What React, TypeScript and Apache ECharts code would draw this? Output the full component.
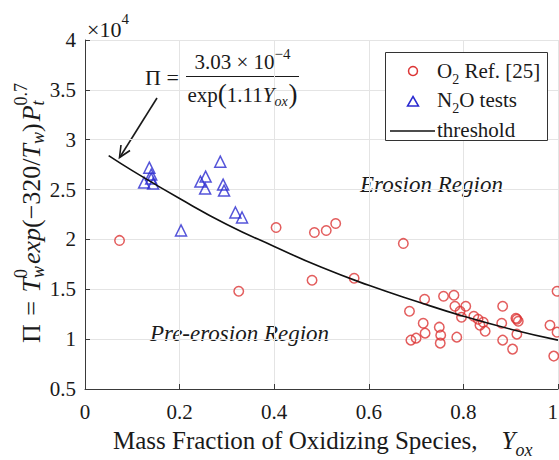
import React, { useEffect, useRef } from "react";
import * as echarts from "echarts";

// ---- data (Pi values in units of 1e4) ----
const o2X = [0.073, 0.325, 0.404, 0.48, 0.485, 0.51, 0.53, 0.569, 0.673, 0.686, 0.689, 0.7, 0.715, 0.718, 0.719, 0.749, 0.751, 0.752, 0.758, 0.78, 0.782, 0.786, 0.793, 0.796, 0.805, 0.822, 0.831, 0.835, 0.842, 0.846, 0.883, 0.881, 0.883, 0.904, 0.911, 0.916, 0.913, 0.913, 0.983, 0.998, 0.998, 0.991];
const o2Y = [1.99, 1.48, 2.12, 1.59, 2.07, 2.09, 2.16, 1.61, 1.96, 1.28, 0.99, 1.01, 1.16, 1.4, 1.06, 1.12, 0.96, 1.04, 1.43, 1.44, 1.33, 1.02, 1.28, 1.22, 1.33, 1.23, 1.2, 1.14, 1.17, 1.08, 1.33, 1.16, 0.99, 0.9, 1.21, 1.18, 1.2, 1.05, 1.14, 1.48, 1.07, 0.83];
const n2oX = [0.136, 0.14, 0.125, 0.14, 0.144, 0.203, 0.244, 0.255, 0.254, 0.286, 0.292, 0.294, 0.318, 0.332];
const n2oY = [2.72, 2.65, 2.57, 2.61, 2.56, 2.09, 2.58, 2.63, 2.51, 2.78, 2.55, 2.49, 2.27, 2.22];
const thrX = [0.05, 0.1, 0.2, 0.3, 0.4, 0.5, 0.6, 0.7, 0.8, 0.9, 1.0];
const thrY = [2.84, 2.69, 2.41, 2.15, 1.93, 1.72, 1.54, 1.38, 1.23, 1.1, 0.99];
const xTickInterval = 0.2;
const yTickInterval = 0.5;

const FAMILY = "Liberation Serif, Times New Roman, serif";
const INK = "#1a1a1a";
const RED = "#dc3434";
const BLUE = "#2a2ad0";

let mctx: CanvasRenderingContext2D | null = null;
function measure(t: string, size: number, italic?: boolean) {
  if (!mctx) mctx = document.createElement("canvas").getContext("2d");
  if (!mctx) return t.length * size * 0.5;
  mctx.font = `${italic ? "italic " : ""}${size}px "Liberation Serif"`;
  return mctx.measureText(t).width;
}

type Seg = { t: string; s: number; i?: boolean; dy?: number; same?: boolean; gap?: number };

function buildMath(segs: Seg[], align: "left" | "center", z = 5, color = INK) {
  let x = 0;
  let prevStart = 0;
  let prevEnd = 0;
  const items: any[] = [];
  for (const seg of segs) {
    const w = measure(seg.t, seg.s, seg.i);
    const start = seg.same ? prevStart : x + (seg.gap || 0);
    const end = start + w;
    if (seg.same) {
      x = Math.max(prevEnd, end);
      prevEnd = x;
    } else {
      x = end;
      prevEnd = end;
    }
    prevStart = start;
    items.push({ start, seg });
  }
  const total = x;
  const off = align === "center" ? -total / 2 : 0;
  const children = items.map(({ start, seg }) => ({
    type: "text",
    x: start + off,
    y: seg.dy || 0,
    z,
    silent: true,
    style: {
      text: seg.t,
      fontSize: seg.s,
      fontStyle: seg.i ? "italic" : "normal",
      fontFamily: FAMILY,
      fill: color,
      align: "left",
      verticalAlign: "middle",
    },
  }));
  return { children, width: total };
}

export default function App() {
  const ref = useRef<HTMLDivElement>(null);
  useEffect(() => {
    if (!ref.current) return;
    const chart = echarts.init(ref.current, undefined, { renderer: "svg" });

    const yLabel = buildMath(
      [
        { t: "Π", s: 26 },
        { t: " = ", s: 26, gap: 2 },
        { t: "T", s: 26, i: true, gap: 2 },
        { t: "w", s: 18, i: true, dy: 7 },
        { t: "0", s: 18, dy: -10, same: true },
        { t: "exp", s: 26, i: true, gap: 2 },
        { t: "(−320/", s: 26 },
        { t: "T", s: 26, i: true },
        { t: "w", s: 18, i: true, dy: 7 },
        { t: ")", s: 26 },
        { t: "P", s: 26, i: true, gap: 2 },
        { t: "t", s: 18, i: true, dy: 7 },
        { t: "0.7", s: 18, dy: -10, same: true },
      ],
      "center"
    );

    const xLabel = buildMath(
      [
        { t: "Mass Fraction of Oxidizing Species,", s: 25 },
        { t: "Y", s: 25, i: true, gap: 24 },
        { t: "ox", s: 18, i: true, dy: 10 },
      ],
      "left"
    );

    const exp10 = buildMath(
      [
        { t: "×10", s: 22 },
        { t: "4", s: 15, dy: -10 },
      ],
      "left"
    );

    const piEq = buildMath([{ t: "Π = ", s: 22 }], "left");
    const numer = buildMath(
      [
        { t: "3.03 × 10", s: 21 },
        { t: "−4", s: 15, dy: -8 },
      ],
      "center"
    );
    const denom = buildMath(
      [
        { t: "exp", s: 21 },
        { t: "(", s: 27, dy: -1 },
        { t: "1.11", s: 21 },
        { t: "Y", s: 21, i: true },
        { t: "ox", s: 14, i: true, dy: 6 },
        { t: ")", s: 27, dy: -1, gap: 1 },
      ],
      "center"
    );

    const legendText1 = buildMath(
      [
        { t: "O", s: 21 },
        { t: "2", s: 14, dy: 8 },
        { t: " Ref. [25]", s: 21 },
      ],
      "left",
      12
    );
    const legendText2 = buildMath(
      [
        { t: "N", s: 21 },
        { t: "2", s: 14, dy: 8 },
        { t: "O tests", s: 21 },
      ],
      "left",
      12
    );
    const legendText3 = buildMath([{ t: "threshold", s: 21 }], "left", 12);

    const axisColor = "#3a3a3a";
    const labelStyle = { color: INK, fontFamily: FAMILY, fontSize: 21 };

    const option: any = {
      animation: false,
      backgroundColor: "#ffffff",
      grid: { left: 85, top: 40, width: 473, height: 349, outerBoundsMode: "none", containLabel: false },
      xAxis: {
        type: "value",
        min: 0,
        max: 1,
        interval: xTickInterval,
        axisLine: { show: true, lineStyle: { color: axisColor, width: 1 } },
        axisTick: { show: true, inside: true, length: 5, lineStyle: { color: axisColor } },
        axisLabel: {
          ...labelStyle,
          margin: 12,
          alignMaxLabel: "right",
          formatter: (v: number) => String(+v.toFixed(1)),
        },
        splitLine: { show: true, lineStyle: { color: "#e4e4e4", width: 1 } },
      },
      yAxis: {
        type: "value",
        min: 0.5,
        max: 4,
        interval: yTickInterval,
        axisLine: { show: true, lineStyle: { color: axisColor, width: 1 } },
        axisTick: { show: true, inside: true, length: 5, lineStyle: { color: axisColor } },
        axisLabel: { ...labelStyle, margin: 9, formatter: (v: number) => String(+v.toFixed(1)) },
        splitLine: { show: true, lineStyle: { color: "#e4e4e4", width: 1 } },
      },
      series: [
        {
          name: "O2 Ref. [25]",
          type: "scatter",
          symbol: "circle",
          symbolSize: 9.5,
          itemStyle: { color: "rgba(0,0,0,0)", borderColor: RED, borderWidth: 1.5 },
          data: o2X.map((x, i) => [x, o2Y[i]]),
          z: 3,
        },
        {
          name: "N2O tests",
          type: "scatter",
          symbol: "triangle",
          symbolSize: 11,
          itemStyle: { color: "rgba(0,0,0,0)", borderColor: BLUE, borderWidth: 1.5 },
          data: n2oX.map((x, i) => [x, n2oY[i]]),
          z: 3,
        },
        {
          name: "threshold",
          type: "line",
          smooth: true,
          symbol: "none",
          showSymbol: false,
          lineStyle: { color: "#111111", width: 1.6 },
          data: thrX.map((x, i) => [x, thrY[i]]),
          z: 4,
        },
      ],
      graphic: [
        { type: "group", x: 31, y: 213, rotation: Math.PI / 2, children: yLabel.children },
        { type: "group", x: 113, y: 440, children: xLabel.children },
        { type: "group", x: 87, y: 29, children: exp10.children },
        // region labels
        {
          type: "text",
          x: 360,
          y: 184,
          silent: true,
          style: { text: "Erosion Region", fontSize: 23, fontStyle: "italic", fontFamily: FAMILY, fill: INK, verticalAlign: "middle" },
        },
        {
          type: "text",
          x: 150,
          y: 333,
          silent: true,
          style: { text: "Pre-erosion Region", fontSize: 23, fontStyle: "italic", fontFamily: FAMILY, fill: INK, verticalAlign: "middle" },
        },
        // formula annotation
        { type: "group", x: 145, y: 77, children: piEq.children },
        { type: "group", x: 242.5, y: 62, children: numer.children },
        { type: "line", shape: { x1: 186, y1: 76.5, x2: 299, y2: 76.5 }, style: { stroke: INK, lineWidth: 1 } },
        { type: "group", x: 242.5, y: 95, children: denom.children },
        // arrow
        { type: "line", shape: { x1: 157, y1: 98, x2: 120, y2: 157 }, style: { stroke: INK, lineWidth: 1.6 } },
        {
          type: "polyline",
          shape: { points: [[130, 150.5], [119.5, 157.5], [121, 145]] },
          style: { stroke: INK, lineWidth: 1.6, fill: null },
        },
        // legend
        {
          type: "rect",
          shape: { x: 385.5, y: 52.5, width: 162, height: 88 },
          style: { fill: "#ffffff", stroke: "#333333", lineWidth: 1 },
          z: 10,
        },
        { type: "circle", shape: { cx: 413, cy: 71, r: 4.5 }, style: { fill: null, stroke: RED, lineWidth: 1.5 }, z: 11 },
        {
          type: "polygon",
          shape: { points: [[413, 96.5], [418.5, 106], [407.5, 106]] },
          style: { fill: null, stroke: BLUE, lineWidth: 1.5 },
          z: 11,
        },
        { type: "line", shape: { x1: 390, y1: 131, x2: 435, y2: 131 }, style: { stroke: "#111111", lineWidth: 1.6 }, z: 11 },
        { type: "group", x: 437, y: 71, children: legendText1.children },
        { type: "group", x: 437, y: 100, children: legendText2.children },
        { type: "group", x: 437, y: 130, children: legendText3.children },
      ],
    };
    chart.setOption(option);
    return () => chart.dispose();
  }, []);

  return <div ref={ref} style={{ position: "fixed", left: 0, top: 0, width: 559, height: 460 }} />;
}
